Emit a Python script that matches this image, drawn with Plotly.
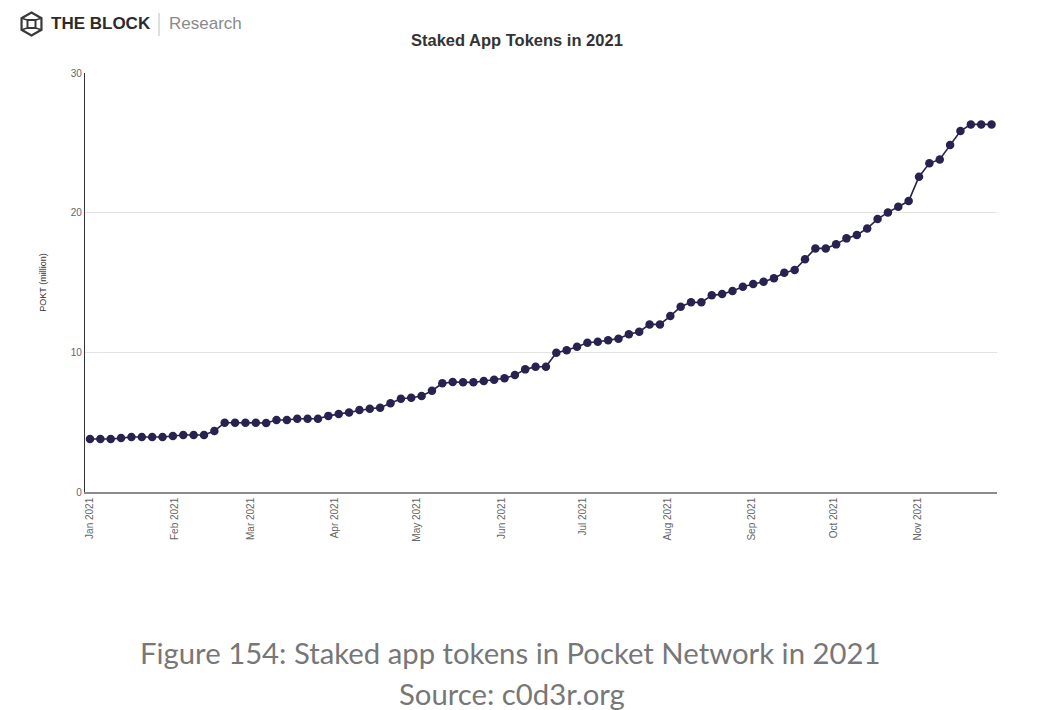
import math
import pandas as pd
import plotly.graph_objects as go

# Staked app tokens (POKT, millions), sampled roughly every ~3.8 days from Jan 1 to Nov 28, 2021
start_date = "2021-01-01"
end_date = "2021-11-28"
staked_millions = [
    3.79, 3.79, 3.79, 3.86, 3.94, 3.94, 3.94, 3.94, 4.01, 4.08, 4.08, 4.08,
    4.37, 4.96, 4.96, 4.96, 4.96, 4.94, 5.15, 5.15, 5.25, 5.25, 5.25, 5.45,
    5.58, 5.70, 5.87, 5.96, 6.04, 6.35, 6.68, 6.75, 6.87, 7.25, 7.78, 7.87,
    7.85, 7.85, 7.95, 8.04, 8.14, 8.37, 8.78, 8.97, 8.97, 9.97, 10.15, 10.40,
    10.69, 10.76, 10.86, 10.98, 11.29, 11.48, 12.00, 12.00, 12.60, 13.27, 13.58, 13.58,
    14.08, 14.17, 14.39, 14.70, 14.89, 15.06, 15.30, 15.70, 15.89, 16.67, 17.44, 17.44,
    17.73, 18.16, 18.40, 18.87, 19.54, 20.02, 20.42, 20.83, 22.57, 23.53, 23.81, 24.84,
    25.84, 26.32, 26.32, 26.32,
]
dates = pd.date_range(start_date, end_date, periods=len(staked_millions))

title_text = "Staked App Tokens in 2021"
y_title = "POKT (million)"
y_ticks = [0, 10, 20, 30]
caption_line1 = "Figure 154: Staked app tokens in Pocket Network in 2021"
caption_line2 = "Source: c0d3r.org"

# page body has an 8px margin; figure coordinates = screen - 8
OFF = 8
W, H = 1064 - OFF, 710 - OFF
L, R, T, B = 85 - OFF, 997 - OFF, 73 - OFF, 492 - OFF


def px(x):
    """screen x -> paper x"""
    return (x - OFF - L) / (R - L)


def py(y):
    """screen y -> paper y"""
    return (B - (y - OFF)) / (B - T)


fig = go.Figure()
fig.add_trace(go.Scatter(
    x=dates, y=staked_millions, mode="lines+markers",
    line=dict(color="#27224f", width=1.6),
    marker=dict(color="#27224f", size=8.5),
    showlegend=False,
))

fig.update_layout(
    width=W, height=H,
    margin=dict(l=L, r=W - R, t=T, b=H - B, pad=0),
    paper_bgcolor="white", plot_bgcolor="white",
    font=dict(family="Liberation Sans, Arial, sans-serif", color="#666666"),
    xaxis=dict(
        range=["2020-12-30 04:00", "2021-11-30 00:00"],
        tickformat="%b %Y", dtick="M1", tick0="2021-01-01",
        tickangle=-90, tickfont=dict(size=10, color="#666666"),
        showgrid=False, zeroline=False,
        showline=True, linecolor="#8c8c8c", linewidth=1.5,
        ticks="", ticklen=0,
    ),
    yaxis=dict(
        range=[0, 30], tickvals=y_ticks,
        tickfont=dict(size=10, color="#666666"),
        showgrid=True, gridcolor="#e3e3e3", gridwidth=1,
        zeroline=False, showline=True, linecolor="#333333", linewidth=1.2,
        ticks="", ticklen=0,
        title=dict(text=y_title, font=dict(size=9, color="#333333"), standoff=22),
    ),
)

# chart title
fig.add_annotation(x=px(517), y=py(40), xref="paper", yref="paper",
                   text="<b>" + title_text + "</b>", showarrow=False,
                   font=dict(size=16.5, color="#333333", family="Liberation Sans, Arial, sans-serif"),
                   xanchor="center", yanchor="middle")

# logo: THE BLOCK | Research
fig.add_annotation(x=px(49), y=py(24), xref="paper", yref="paper",
                   text="<b>THE BLOCK</b>", showarrow=False,
                   font=dict(size=17, color="#2b2b2b", family="Liberation Sans, Arial, sans-serif"),
                   xanchor="left", yanchor="middle")
fig.add_annotation(x=px(167), y=py(24), xref="paper", yref="paper",
                   text="Research", showarrow=False,
                   font=dict(size=17, color="#8a8a8a", family="Liberation Sans, Arial, sans-serif"),
                   xanchor="left", yanchor="middle")
fig.add_shape(type="line", xref="paper", yref="paper",
              x0=px(159), x1=px(159), y0=py(13), y1=py(36),
              line=dict(color="#bdbdbd", width=1))
# hexagon icon
cx, cy, r = 31.5, 24, 11.5
hex_pts = [(cx + r * math.cos(math.radians(a)), cy + r * math.sin(math.radians(a)))
           for a in (90, 150, 210, 270, 330, 30)]
path = "M " + " L ".join(f"{px(x):.5f},{py(y):.5f}" for x, y in hex_pts) + " Z"
fig.add_shape(type="path", path=path, xref="paper", yref="paper",
              line=dict(color="#3a3a3a", width=2.2))
fig.add_shape(type="rect", xref="paper", yref="paper",
              x0=px(cx - 4), x1=px(cx + 4), y0=py(cy + 4), y1=py(cy - 4),
              line=dict(color="#3a3a3a", width=2))
for (hx, hy), (sx, sy) in zip([hex_pts[1], hex_pts[2], hex_pts[4], hex_pts[5]],
                              [(cx - 4, cy + 4), (cx - 4, cy - 4), (cx + 4, cy - 4), (cx + 4, cy + 4)]):
    fig.add_shape(type="line", xref="paper", yref="paper",
                  x0=px(hx), y0=py(hy), x1=px(sx), y1=py(sy),
                  line=dict(color="#3a3a3a", width=1.6))

# caption
fig.add_annotation(x=px(510), y=py(652), xref="paper", yref="paper",
                   text=caption_line1, showarrow=False,
                   font=dict(size=29.3, color="#777777", family="Lato, sans-serif"),
                   xanchor="center", yanchor="middle")
fig.add_annotation(x=px(512), y=py(693), xref="paper", yref="paper",
                   text=caption_line2, showarrow=False,
                   font=dict(size=29.3, color="#777777", family="Lato, sans-serif"),
                   xanchor="center", yanchor="middle")

fig.write_html("out.html")
